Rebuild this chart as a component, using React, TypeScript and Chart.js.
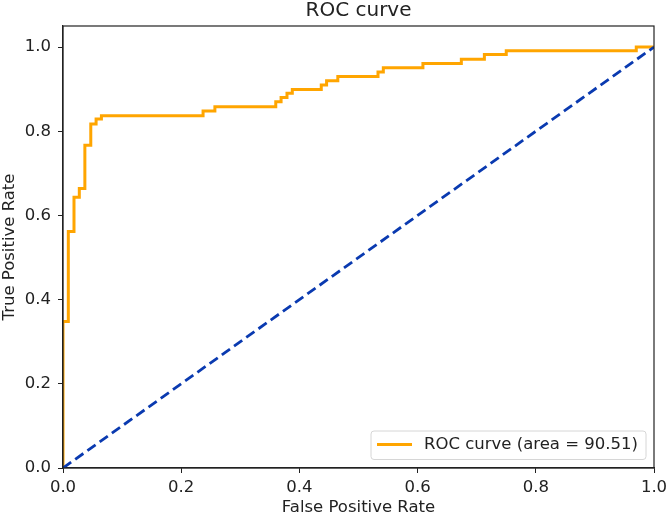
import React, { useEffect, useRef } from "react";
import { Chart, registerables } from "chart.js";

Chart.register(...registerables);

const fpr = [0, 0, 0.009, 0.009, 0.0186, 0.0186, 0.0276, 0.0276, 0.037, 0.037, 0.047, 0.047, 0.056, 0.056, 0.065, 0.065, 0.237, 0.237, 0.257, 0.257, 0.36, 0.36, 0.369, 0.369, 0.379, 0.379, 0.388, 0.388, 0.437, 0.437, 0.446, 0.446, 0.465, 0.465, 0.533, 0.533, 0.542, 0.542, 0.609, 0.609, 0.674, 0.674, 0.713, 0.713, 0.75, 0.75, 0.97, 0.97, 1.0];
const tpr = [0, 0.348, 0.348, 0.562, 0.562, 0.643, 0.643, 0.664, 0.664, 0.767, 0.767, 0.817, 0.817, 0.829, 0.829, 0.837, 0.837, 0.848, 0.848, 0.858, 0.858, 0.87, 0.87, 0.88, 0.88, 0.89, 0.89, 0.899, 0.899, 0.91, 0.91, 0.92, 0.92, 0.93, 0.93, 0.941, 0.941, 0.951, 0.951, 0.961, 0.961, 0.971, 0.971, 0.982, 0.982, 0.991, 0.991, 1.0, 1.0];
const diagX = [0, 1];
const diagY = [0, 1];
const xTicks = [0, 0.2, 0.4, 0.6, 0.8, 1.0];
const yTicks = [0, 0.2, 0.4, 0.6, 0.8, 1.0];
const titleText = "ROC curve";
const xLabel = "False Positive Rate";
const yLabel = "True Positive Rate";
const legendLabel = "ROC curve (area = 90.51)";

const FONT = "'DejaVu Sans', sans-serif";
const ORANGE = "#ffa500";
const BLUE = "#0a3ab0";
const AXIS = "#222222";

export default function App() {
  const ref = useRef<HTMLCanvasElement | null>(null);
  useEffect(() => {
    if (!ref.current) return;
    const decor = {
      id: "decor",
      afterDatasetsDraw(chart: any) {
        const { ctx, chartArea } = chart;
        const { left, right, top, bottom } = chartArea;
        ctx.save();
        // frame
        ctx.strokeStyle = AXIS;
        ctx.lineWidth = 1.2;
        ctx.strokeRect(left, top, right - left, bottom - top);
        // title
        ctx.fillStyle = "#222";
        ctx.font = `20px ${FONT}`;
        ctx.textAlign = "center";
        ctx.textBaseline = "middle";
        ctx.fillText(titleText, (left + right) / 2, 11);
        // x label
        ctx.font = `16.5px ${FONT}`;
        ctx.fillText(xLabel, (left + right) / 2, 507.5);
        // y label
        ctx.save();
        ctx.translate(10, (top + bottom) / 2);
        ctx.rotate(-Math.PI / 2);
        ctx.fillText(yLabel, 0, 0);
        ctx.restore();
        // legend
        const lx = 371, ly = 431, lw = 275, lh = 28.5, r = 3;
        ctx.beginPath();
        ctx.moveTo(lx + r, ly);
        ctx.lineTo(lx + lw - r, ly);
        ctx.arcTo(lx + lw, ly, lx + lw, ly + r, r);
        ctx.lineTo(lx + lw, ly + lh - r);
        ctx.arcTo(lx + lw, ly + lh, lx + lw - r, ly + lh, r);
        ctx.lineTo(lx + r, ly + lh);
        ctx.arcTo(lx, ly + lh, lx, ly + lh - r, r);
        ctx.lineTo(lx, ly + r);
        ctx.arcTo(lx, ly, lx + r, ly, r);
        ctx.closePath();
        ctx.fillStyle = "rgba(255,255,255,0.8)";
        ctx.fill();
        ctx.strokeStyle = "#d6d6d6";
        ctx.lineWidth = 1;
        ctx.stroke();
        ctx.strokeStyle = ORANGE;
        ctx.lineWidth = 3;
        ctx.beginPath();
        ctx.moveTo(377, 444.5);
        ctx.lineTo(412, 444.5);
        ctx.stroke();
        ctx.fillStyle = "#222";
        ctx.textAlign = "left";
        ctx.font = `16.5px ${FONT}`;
        ctx.fillText(legendLabel, 424, 445);
        ctx.restore();
      },
    };

    const chart = new Chart(ref.current, {
      type: "line",
      data: {
        datasets: [
          {
            label: "diagonal",
            data: diagX.map((x, i) => ({ x, y: diagY[i] })),
            borderColor: BLUE,
            borderWidth: 2.8,
            borderDash: [10, 5],
            pointRadius: 0,
            fill: false,
            order: 0,
          },
          {
            label: legendLabel,
            data: fpr.map((x, i) => ({ x, y: tpr[i] })),
            borderColor: ORANGE,
            borderWidth: 3,
            pointRadius: 0,
            fill: false,
            tension: 0,
            order: 1,
          },
        ],
      },
      options: {
        responsive: false,
        animation: false,
        devicePixelRatio: 1,
        layout: { padding: { top: 26, right: 14, left: 0, bottom: 0 } },
        plugins: {
          legend: { display: false },
          title: { display: false },
          tooltip: { enabled: false },
        },
        scales: {
          x: {
            type: "linear",
            min: 0,
            max: 1,
            afterBuildTicks: (s: any) => {
              s.ticks = xTicks.map((v) => ({ value: v }));
            },
            afterFit: (s: any) => {
              s.height = 50;
              s.paddingLeft = 0;
              s.paddingRight = 0;
            },
            ticks: {
              color: "#222",
              font: { family: FONT, size: 16.5 },
              padding: 5,
              maxRotation: 0,
              callback: (v: any) => Number(v).toFixed(1),
            },
            grid: {
              display: true,
              drawOnChartArea: false,
              drawTicks: true,
              tickLength: 5,
              color: AXIS,
              lineWidth: 1,
            },
            border: { display: true, color: AXIS, width: 1.2 },
          },
          y: {
            type: "linear",
            min: 0,
            max: 1.05,
            afterBuildTicks: (s: any) => {
              s.ticks = yTicks.map((v) => ({ value: v }));
            },
            afterFit: (s: any) => {
              s.width = 63;
              s.paddingTop = 0;
              s.paddingBottom = 0;
            },
            ticks: {
              color: "#222",
              font: { family: FONT, size: 16.5 },
              padding: 7,
              callback: (v: any) => Number(v).toFixed(1),
            },
            grid: {
              display: true,
              drawOnChartArea: false,
              drawTicks: true,
              tickLength: 5,
              color: AXIS,
              lineWidth: 1,
            },
            border: { display: true, color: AXIS, width: 1.2 },
          },
        },
      },
      plugins: [decor],
    });
    return () => chart.destroy();
  }, []);

  return (
    <div style={{ position: "fixed", left: 0, top: 0, width: 668, height: 518, background: "#fff" }}>
      <canvas ref={ref} width={668} height={518} style={{ width: 668, height: 518, display: "block" }} />
    </div>
  );
}
